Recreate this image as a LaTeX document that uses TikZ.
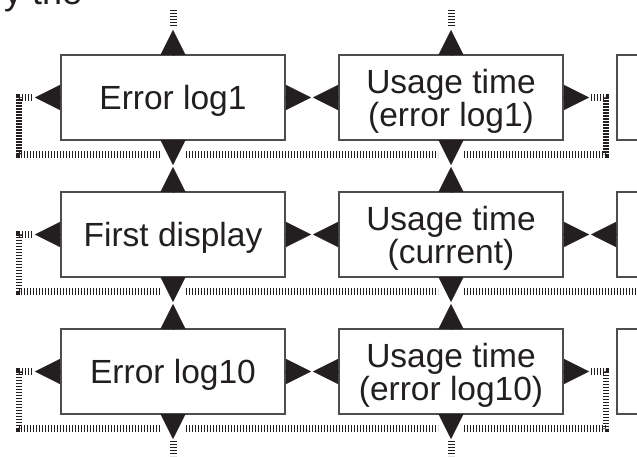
\documentclass[tikz,border=0pt]{standalone}
\usepackage{fontspec}
\setmainfont{Liberation Sans}
\usetikzlibrary{arrows.meta,positioning}
\definecolor{ink}{HTML}{231F20}
\tikzstyle{logbox}=[
	rectangle,
	draw=ink!80,
	line width=1.3pt,
	text=ink,
	inner sep=0,
	outer sep=0,
	minimum width=224pt,
	minimum height=85pt,
	text depth=0pt,
	align=center,
	font=\fontsize{33.5}{33}\selectfont]
\tikzstyle{tri}=[
	draw=ink,
	line width=.4pt,
	-{Triangle[length=25pt,width=25pt,fill=ink]}]
\tikzstyle{hatch}=[
	draw=ink,
	line width=6.5pt,
	dash pattern=on 1.2pt off 1.8pt]
\begin{document}
\begin{tikzpicture}[x=1pt,y=-1pt]
	\useasboundingbox (0,0) rectangle (637,457);
	\node[text=ink,anchor=base west,inner sep=0,font=\fontsize{36}{36}\selectfont] (title) at (4,5) {y the};
	\node[logbox]	(err1)	at (173,97.5)	{Error log1};
	\node[logbox]	(use1)	[right=54pt of err1]	{Usage time\\(error log1)};
	\node[logbox]	(next1)	[right=54pt of use1]	{};
	\node[logbox]	(first)	[below=52pt of err1]	{First display};
	\node[logbox]	(usecur)	[right=54pt of first]	{Usage time\\(current)};
	\node[logbox]	(nextcur)	[right=54pt of usecur]	{};
	\node[logbox]	(err10)	[below=52pt of first]	{Error log10};
	\node[logbox]	(use10)	[right=54pt of err10]	{Usage time\\(error log10)};
	\node[logbox]	(next10)	[right=54pt of use10]	{};
	% triangles on all four sides
	\foreach \bx in {err1,use1,first,usecur,err10,use10}{
		\coordinate[above=25pt of \bx.north]	(\bx-n);
		\coordinate[below=25pt of \bx.south]	(\bx-s);
		\coordinate[left=26pt of \bx.west]	(\bx-w);
		\coordinate[right=26pt of \bx.east]	(\bx-e);
		\draw[tri] (\bx.north) -- (\bx-n);
		\draw[tri] (\bx.south) -- (\bx-s);
		\draw[tri] (\bx.west) -- (\bx-w);
		\draw[tri] (\bx.east) -- (\bx-e);
	}
	\coordinate[left=26pt of nextcur.west]	(nextcur-w);
	\draw[tri] (nextcur.west) -- (nextcur-w);
	% hatched lines of each row
	\foreach \lft/\rgt in {err1/use1,first/usecur,err10/use10}{
		\coordinate[left=29pt of \lft.west]	(\lft-stub);
		\coordinate[below left=14.5pt and 154pt of \lft.south]	(\lft-corner);
		\coordinate[below left=14.5pt and 13pt of \lft.south]	(\lft-in);
		\coordinate[below right=14.5pt and 13pt of \lft.south]	(\lft-out);
		\coordinate[below left=14.5pt and 13pt of \rgt.south]	(\rgt-in);
		\coordinate[below right=14.5pt and 13pt of \rgt.south]	(\rgt-out);
		\draw[hatch] (\lft-stub) -| (\lft-corner) -- (\lft-in);
		\draw[hatch] (\lft-out) -- (\rgt-in);
	}
	\foreach \rgt in {use1,use10}{
		\coordinate[right=28pt of \rgt.east]	(\rgt-stub);
		\coordinate[below right=14.5pt and 155pt of \rgt.south]	(\rgt-corner);
		\draw[hatch] (\rgt-stub) -| (\rgt-corner) -- (\rgt-out);
	}
	\coordinate[below right=14.5pt and 190pt of usecur.south]	(usecur-end);
	\draw[hatch] (usecur-out) -- (usecur-end);
	% short stubs above and below
	\foreach \bx in {err1,use1}{
		\coordinate[above=29pt of \bx.north]	(\bx-a);
		\coordinate[above=45pt of \bx.north]	(\bx-b);
		\draw[hatch,line width=7pt] (\bx-a) -- (\bx-b);
	}
	\foreach \bx in {err10,use10}{
		\coordinate[below=27pt of \bx.south]	(\bx-a);
		\coordinate[below=42pt of \bx.south]	(\bx-b);
		\draw[hatch,line width=7pt] (\bx-a) -- (\bx-b);
	}
\end{tikzpicture}
\end{document}
